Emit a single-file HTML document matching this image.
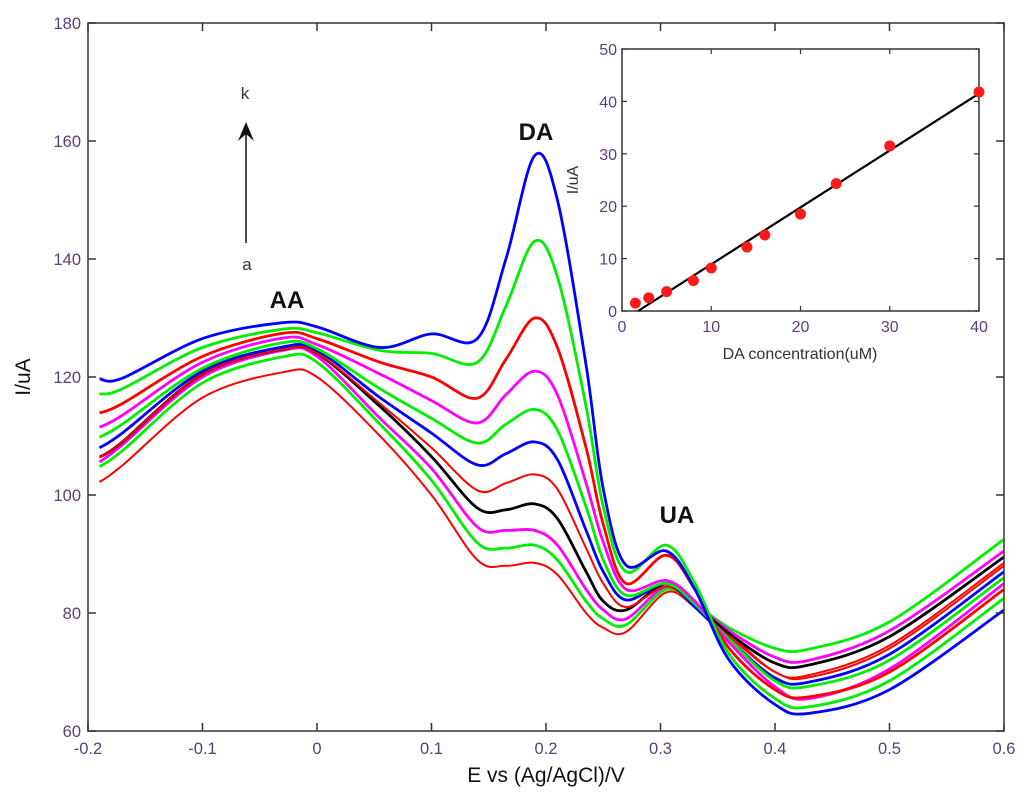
<!DOCTYPE html>
<html><head><meta charset="utf-8">
<style>
html,body{margin:0;padding:0;background:#fff;}
svg{display:block;font-family:"Liberation Sans",Arial,sans-serif;}
.tk{fill:#5a3f78;font-size:16.5px;}
.itk{fill:#5a3f78;font-size:16px;}
</style></head>
<body>
<svg id="chart" width="1024" height="803" viewBox="0 0 1024 803">
<g id="main"></g>
<g id="inset"></g>
</svg>
<script>
// ---- main chart data ----
const potentials = [-0.19,-0.17,-0.1,-0.03,0,0.055,0.1,0.14,0.165,0.19,0.21,0.235,0.25,0.27,0.305,0.33,0.36,0.4,0.43,0.5,0.6];
const curveK = [119.7,119.8,126.5,129.2,128.5,125,127.3,126.5,140,157.5,150,122,101,88.1,90.5,84,72,64.5,63,67,80.5];
const curveJ = [117.1,118,125,128.1,127.5,124.5,124,122.5,132,143,137,115,98,87,91.5,85,73,65.5,64.1,68.5,82.5];
const curveI = [113.9,115.5,123.5,127.4,126.5,122.5,120,116.4,123,130,125,108,95,85,89.8,84,74,67,65.8,70,84];
const curveH = [111.5,113.5,122.5,126.6,125.5,120.5,116,112.2,117,121,117,102,92,84,85.5,82,75,67.5,65.5,70.5,85];
const curveG = [109.8,112,121.5,125.8,124.8,118,113,108.8,112,114.5,111,98,89,83,85,81.5,75.5,68.5,67.6,72,86];
const curveF = [108,110.5,121,125.1,124.5,116.5,110.5,105.1,107,109,106,94,87,82.2,85,81,75.5,69,68.3,73,87];
const curveE = [106.4,109,120.5,124.7,124,115.5,108,100.8,102,103.5,101,91,85,81,84.5,81,76,70,69.1,74,88];
const curveD = [106.4,109,120.5,124.7,124,115,106.5,97.8,97.5,98.5,96,87,82,80.5,85,81.5,76.5,71.5,71.2,76,89.5];
const curveC = [105.6,108.5,120,124.5,123.5,113,104.5,94.6,94,94,91.5,84,80.5,79,84.5,81.5,77,72.5,72,77,90.5];
const curveB = [104.8,107.5,119,123.4,122.5,112,102.5,91.9,91,91.5,89,82,79,78,84,81.5,77.5,74,73.9,78.5,92.5];
const curveA = [102.2,105,116.5,120.8,120,110,100,89,88,88.5,86.5,80,77.5,76.8,83.5,81,76.5,70,69.5,74.5,88.5];
const curveNames = ['a','b','c','d','e','f','g','h','i','j','k'];
const curveColors = ['#ff0000','#00ee00','#ff00ff','#000000','#ff0000','#0000ff','#00ee00','#ff00ff','#ff0000','#00ee00','#0000ff'];
const xTicks = [-0.2,-0.1,0,0.1,0.2,0.3,0.4,0.5,0.6];
const xTickLabels = ['-0.2','-0.1','0','0.1','0.2','0.3','0.4','0.5','0.6'];
const yTicks = [60,80,100,120,140,160,180];
// ---- inset data ----
const concentrations = [1.5,3,5,8,10,14,16,20,24,30,40];
const peakCurrents = [1.5,2.5,3.7,5.8,8.2,12.2,14.5,18.5,24.3,31.5,41.8];
const fitX = [1.8,40];
const fitY = [0,41.5];
const insetXTicks = [0,10,20,30,40];
const insetYTicks = [0,10,20,30,40,50];

const NS='http://www.w3.org/2000/svg';
function mk(parent,tag,attrs,text){const e=document.createElementNS(NS,tag);for(const k in attrs)e.setAttribute(k,attrs[k]);if(text!==undefined)e.textContent=text;parent.appendChild(e);return e;}

const L=88,R=1004,T=23,B=731;
const xs=v=>L+(v+0.2)/0.8*(R-L);
const ys=v=>B-(v-60)/120*(B-T);
const main=document.getElementById('main');

function smoothPath(px,py){
  let d='M'+px[0].toFixed(1)+','+py[0].toFixed(1);
  for(let i=0;i<px.length-1;i++){
    const x0=px[Math.max(i-1,0)],y0=py[Math.max(i-1,0)];
    const x1=px[i],y1=py[i],x2=px[i+1],y2=py[i+1];
    const x3=px[Math.min(i+2,px.length-1)],y3=py[Math.min(i+2,px.length-1)];
    const c1x=x1+(x2-x0)/6,c1y=y1+(y2-y0)/6,c2x=x2-(x3-x1)/6,c2y=y2-(y3-y1)/6;
    d+=' C'+c1x.toFixed(1)+','+c1y.toFixed(1)+' '+c2x.toFixed(1)+','+c2y.toFixed(1)+' '+x2.toFixed(1)+','+y2.toFixed(1);
  }
  return d;
}
const allCurves=[curveA,curveB,curveC,curveD,curveE,curveF,curveG,curveH,curveI,curveJ,curveK];
allCurves.forEach((c,i)=>{
  const p=mk(main,'path',{d:smoothPath(potentials.map(xs),c.map(ys)),fill:'none',stroke:curveColors[i],'stroke-width':(i===0||i===4)?2:2.8,'stroke-linejoin':'round'});
  
  
});

const fr=mk(main,'rect',{x:L,y:T,width:R-L,height:B-T,fill:'none',stroke:'#333','stroke-width':1.5});


xTicks.forEach((v,i)=>{
  const x=xs(v);
  mk(main,'line',{x1:x,y1:B,x2:x,y2:B-8,stroke:'#333','stroke-width':1.5});
  mk(main,'line',{x1:x,y1:T,x2:x,y2:T+8,stroke:'#333','stroke-width':1.5});
  const t=mk(main,'text',{x:x,y:B+23,'text-anchor':'middle',class:'tk'},xTickLabels[i]);
  
  
});
yTicks.forEach(v=>{
  const y=ys(v);
  mk(main,'line',{x1:L,y1:y,x2:L+8,y2:y,stroke:'#333','stroke-width':1.5});
  mk(main,'line',{x1:R,y1:y,x2:R-8,y2:y,stroke:'#333','stroke-width':1.5});
  const t=mk(main,'text',{x:L-7,y:y+6,'text-anchor':'end',class:'tk'},String(v));
  
  
});

const IL=622,IR=979,IT=49,IB=311;
const ixs=v=>IL+v/40*(IR-IL);
const iys=v=>IB-v/50*(IB-IT);
const inset=document.getElementById('inset');
const ibg=mk(inset,'rect',{x:IL,y:IT,width:IR-IL,height:IB-IT,fill:'#fff',stroke:'#333','stroke-width':1.5});


insetXTicks.forEach(v=>{
  const x=ixs(v);
  mk(inset,'line',{x1:x,y1:IB,x2:x,y2:IB-5,stroke:'#333','stroke-width':1.2});
  mk(inset,'line',{x1:x,y1:IT,x2:x,y2:IT+5,stroke:'#333','stroke-width':1.2});
  const t=mk(inset,'text',{x:x,y:IB+21,'text-anchor':'middle',class:'itk'},String(v));
  
  
});
insetYTicks.forEach(v=>{
  const y=iys(v);
  mk(inset,'line',{x1:IL,y1:y,x2:IL+5,y2:y,stroke:'#333','stroke-width':1.2});
  mk(inset,'line',{x1:IR,y1:y,x2:IR-5,y2:y,stroke:'#333','stroke-width':1.2});
  const t=mk(inset,'text',{x:IL-5,y:y+6,'text-anchor':'end',class:'itk'},String(v));
  
  
});
const fit=mk(inset,'line',{x1:ixs(fitX[0]),y1:iys(fitY[0]),x2:ixs(fitX[1]),y2:iys(fitY[1]),stroke:'#000','stroke-width':2.2});


concentrations.forEach((c,i)=>{
  const p=mk(inset,'circle',{cx:ixs(c),cy:iys(peakCurrents[i]),r:5.5,fill:'#ff1a1a'});
  
  
});
</script>
<svg width="1024" height="803" style="position:absolute;left:0;top:0;font-family:'Liberation Sans',Arial,sans-serif">
  <text x="30" y="377" transform="rotate(-90 30 377)" text-anchor="middle" font-size="21" fill="#111">I/uA</text>
  <text x="546" y="782" text-anchor="middle" font-size="21" fill="#111">E vs (Ag/AgCl)/V</text>
  <text x="287" y="308" text-anchor="middle" font-size="24" font-weight="bold" fill="#111">AA</text>
  <text x="536" y="140" text-anchor="middle" font-size="24" font-weight="bold" fill="#111">DA</text>
  <text x="677" y="523" text-anchor="middle" font-size="24" font-weight="bold" fill="#111">UA</text>
  <text x="245" y="99" text-anchor="middle" font-size="17" fill="#333">k</text>
  <text x="247" y="270" text-anchor="middle" font-size="17" fill="#333">a</text>
  <line x1="246" y1="243" x2="246" y2="126" stroke="#111" stroke-width="1.5"/>
  <path d="M238,141 L246,122 L254,141 L246,134 Z" fill="#111"/>
  <text x="578" y="180" transform="rotate(-90 578 180)" text-anchor="middle" font-size="16" fill="#333">I/uA</text>
  <text x="800" y="359" text-anchor="middle" font-size="16" fill="#333">DA concentration(uM)</text>
</svg>
</body></html>
